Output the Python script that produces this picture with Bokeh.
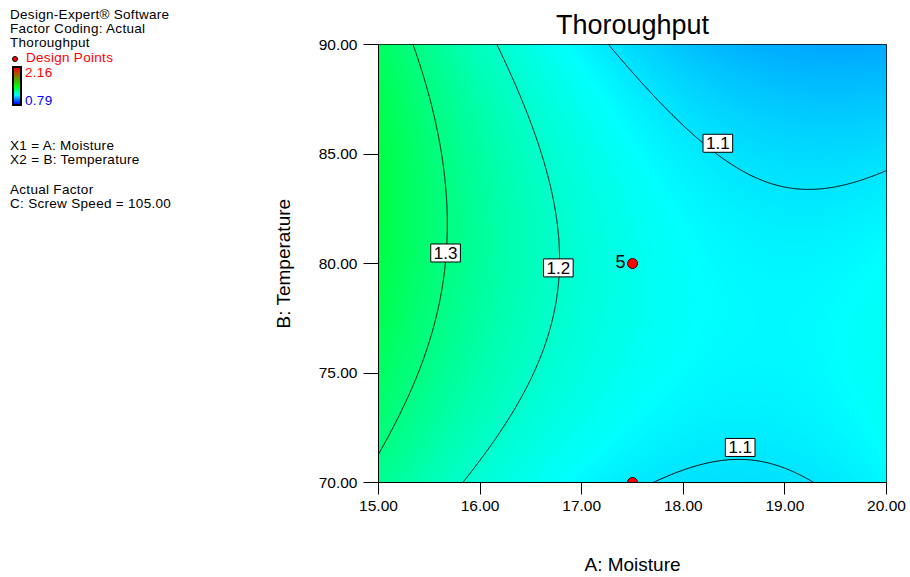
import numpy as np
from bokeh.plotting import figure
from bokeh.models import Range1d, ColumnDataSource, Label, FixedTicker, NumeralTickFormatter, Div
from bokeh.layouts import row
from bokeh.embed import file_html
from bokeh.resources import INLINE
from bokeh.core.properties import value
from bokeh.plotting.contour import contour_data

# ---------------- data ----------------
# points on the drawn contour lines (A: Moisture, B: Temperature)
c130_x = [15.351, 15.607, 15.666, 15.680, 15.650, 15.560, 15.390, 15.210, 15.000]
c130_y = [90.00, 85.44, 83.17, 81.50, 79.40, 77.10, 74.80, 73.30, 71.25]
c120_x = [16.170, 16.410, 16.670, 16.780, 16.795, 16.750, 16.575, 16.260, 15.846]
c120_y = [90.00, 86.96, 83.93, 81.65, 80.30, 77.85, 75.57, 73.30, 70.00]
c110a_x = [17.283, 17.677, 18.170, 18.330, 18.730, 19.240, 19.710, 20.000]
c110a_y = [90.00, 87.72, 85.60, 84.99, 83.93, 83.35, 83.77, 84.23]
c110b_x = [17.690, 18.040, 18.500, 18.960, 19.280]
c110b_y = [70.00, 70.71, 71.09, 70.79, 70.00]
# response values judged from the colour at a few places
col_x = [15.0, 15.0, 15.0, 20.0, 19.5, 17.5, 17.5, 20.0]
col_y = [80.0, 90.0, 70.0, 90.0, 76.0, 80.0, 70.0, 70.0]
col_v = [1.370, 1.340, 1.280, 1.018, 1.133, 1.160, 1.125, 1.125]

contour_levels = [1.1, 1.2, 1.3]
contour_label_text = ["1.3", "1.2", "1.1", "1.1"]
contour_label_x = [15.66, 16.77, 18.34, 18.56]
contour_label_y = [80.48, 79.80, 85.49, 71.60]
design_x = [17.5, 17.5]
design_y = [80.0, 70.0]
design_count = ["5", ""]
x_ticks = [15, 16, 17, 18, 19, 20]
y_ticks = [70, 75, 80, 85, 90]
x_lo, x_hi = 15.0, 20.0
y_lo, y_hi = 70.0, 90.0
resp_min, resp_max = 0.79, 2.16
screw_speed = 105.00

FONT = "Liberation Sans"
W, H = 910, 577
LEG_W = 190
PW = W - LEG_W
FL, FR, FT, FB = 378, 24, 44, 94          # frame borders (page px)
FW, FH = W - FL - FR, H - FT - FB

# ---------------- colour map ----------------
stops_t = [0.0, 0.25, 0.5, 1.0]
stops_r = [0, 0, 0, 255]
stops_g = [0, 255, 255, 0]
stops_b = [255, 255, 0, 0]


def cmap(v):
    t = np.clip((np.asarray(v, dtype=float) - resp_min) / (resp_max - resp_min), 0, 1)
    return (np.interp(t, stops_t, stops_r), np.interp(t, stops_t, stops_g),
            np.interp(t, stops_t, stops_b))


# ---------------- response surface fitted to the read points ----------------
def basis(x, y):
    X = (np.asarray(x, float) - 17.5) / 2.5
    Y = (np.asarray(y, float) - 80.0) / 10.0
    cols = []
    for i in range(4):
        for j in range(4):
            cols.append((X ** i) * (Y ** j))
    return np.stack(cols, axis=-1)


px = np.array(c130_x + c120_x + c110a_x + c110b_x + col_x)
py = np.array(c130_y + c120_y + c110a_y + c110b_y + col_y)
pv = np.array([1.3] * len(c130_x) + [1.2] * len(c120_x) + [1.1] * len(c110a_x)
              + [1.1] * len(c110b_x) + col_v)
wts = np.array([1.0] * (len(px) - len(col_x)) + [0.35] * len(col_x))
A = basis(px, py) * wts[:, None]
coef, *_ = np.linalg.lstsq(A, pv * wts, rcond=None)

nx, ny = FW, FH
xs = np.linspace(x_lo, x_hi, nx)
ys = np.linspace(y_lo, y_hi, ny)
XX, YY = np.meshgrid(xs, ys)
ZZ = basis(XX, YY) @ coef

r, g, b = cmap(ZZ)
img = np.empty((ny, nx), dtype=np.uint32)
view = img.view(dtype=np.uint8).reshape((ny, nx, 4))
view[:, :, 0] = r.astype(np.uint8)
view[:, :, 1] = g.astype(np.uint8)
view[:, :, 2] = b.astype(np.uint8)
view[:, :, 3] = 255

# ---------------- figure ----------------
p = figure(width=PW, height=H, output_backend="svg", toolbar_location=None,
           x_range=Range1d(x_lo, x_hi), y_range=Range1d(y_lo, y_hi),
           min_border_left=FL - LEG_W, min_border_right=FR, min_border_top=FT, min_border_bottom=FB,
           title="Thoroughput")
p.title.align = "center"
p.title.text_font = FONT
p.title.text_font_size = "27px"
p.title.text_font_style = "normal"
p.title.text_color = "black"
p.grid.visible = False
p.outline_line_color = "black"
p.outline_line_width = 1
p.background_fill_color = "white"
p.border_fill_color = "white"

p.image_rgba(image=[img], x=x_lo, y=y_lo, dw=x_hi - x_lo, dh=y_hi - y_lo)

cd = contour_data(x=xs, y=ys, z=ZZ, levels=contour_levels, want_fill=False, want_line=True)
p.multi_line(xs=list(cd.line_data.xs), ys=list(cd.line_data.ys), line_color="black", line_width=1)

for lx, ly, lt in zip(contour_label_x, contour_label_y, contour_label_text):
    p.add_layout(Label(x=lx, y=ly, text=lt, text_align="center", text_baseline="middle",
                       text_font=FONT, text_font_size="17px", text_color="black",
                       background_fill_color="white", border_line_color="black",
                       border_line_width=1, padding=3))

dsrc = ColumnDataSource(dict(x=design_x, y=design_y, n=design_count))
p.scatter("x", "y", source=dsrc, marker="circle", size=10, fill_color="red",
          line_color="#300000", line_width=1)
p.text("x", "y", text="n", source=dsrc, x_offset=-7, y_offset=-2, text_align="right",
       text_baseline="middle", text_font=value(FONT), text_font_size="18px", text_color="black")

for ax in (p.xaxis[0], p.yaxis[0]):
    ax.formatter = NumeralTickFormatter(format="0.00")
    ax.minor_tick_line_color = None
    ax.major_tick_in = 0
    ax.major_tick_line_color = "black"
    ax.axis_line_color = "black"
    ax.major_label_text_font = FONT
    ax.major_label_text_font_size = "15.5px"
    ax.major_label_text_color = "black"
    ax.axis_label_text_font = FONT
    ax.axis_label_text_font_size = "19px"
    ax.axis_label_text_font_style = "normal"
    ax.axis_label_text_color = "black"

p.xaxis[0].ticker = FixedTicker(ticks=x_ticks)
p.yaxis[0].ticker = FixedTicker(ticks=y_ticks)
p.xaxis[0].major_tick_out = 12
p.yaxis[0].major_tick_out = 15
p.xaxis[0].major_label_standoff = 6
p.yaxis[0].major_label_standoff = 6
p.xaxis[0].axis_label = "A: Moisture"
p.yaxis[0].axis_label = "B: Temperature"
p.xaxis[0].axis_label_standoff = 40
p.yaxis[0].axis_label_standoff = 22

# ---------------- left legend panel (HTML) ----------------
def span(text, left, cy, color="black"):
    return ('<div style="position:absolute;left:%dpx;top:%.1fpx;height:13px;line-height:13px;'
            'white-space:nowrap;color:%s;">%s</div>' % (left, cy - 6.5, color, text))


black_lines = ["Design-Expert\u00ae Software", "Factor Coding: Actual", "Thoroughput",
               "X1 = A: Moisture", "X2 = B: Temperature", "Actual Factor",
               "C: Screw Speed = %.2f" % screw_speed]
black_y = [14, 28, 42.5, 145, 159, 189, 203]
parts = [span(t, 10, yy) for t, yy in zip(black_lines, black_y)]
parts.append(span("Design Points", 26, 57.5, "red"))
parts.append(span("%.2f" % resp_max, 25, 72, "red"))
parts.append(span("%.2f" % resp_min, 25, 100.5, "blue"))
parts.append('<div style="position:absolute;left:12px;top:56px;width:6px;height:6px;box-sizing:border-box;'
             'border:1px solid black;border-radius:50%;background:red;"></div>')
grad = ", ".join("rgb(%d,%d,%d) %d%%" % (rr, gg, bb_, int(t * 100))
                 for t, rr, gg, bb_ in zip(stops_t, stops_r, stops_g, stops_b))
parts.append('<div style="position:absolute;left:12px;top:66px;width:10px;height:40px;box-sizing:border-box;'
             'border:2px solid black;background:linear-gradient(to top, %s);"></div>' % grad)
html = ('<div style="position:relative;width:%dpx;height:%dpx;font-family:\'%s\',Arial,sans-serif;'
        'font-size:13.5px;letter-spacing:0.3px;">%s</div>' % (LEG_W, H, FONT, "".join(parts)))
legend = Div(text=html, width=LEG_W, height=H, margin=0)

open("out.html", "w").write(file_html(row(legend, p), INLINE))
